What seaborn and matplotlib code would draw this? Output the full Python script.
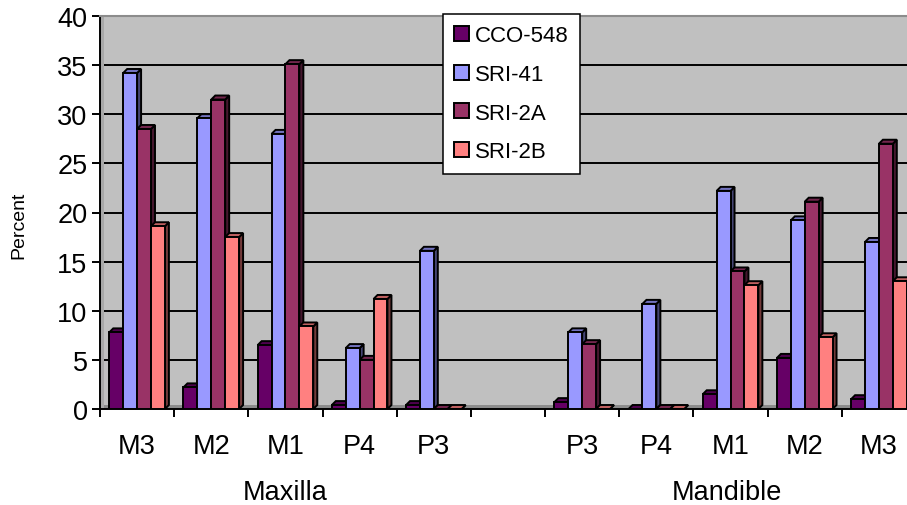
import numpy as np
import pandas as pd
import matplotlib
matplotlib.use("Agg")
import matplotlib.pyplot as plt
import matplotlib.transforms as mtransforms
from matplotlib.patches import Polygon, Patch
from matplotlib.colors import to_rgb
import seaborn as sns

# Tooth positions along each jaw
maxilla_teeth = ["M3", "M2", "M1", "P4", "P3"]
mandible_teeth = ["P3", "P4", "M1", "M2", "M3"]
group_labels = ["Maxilla", "Mandible"]

# Percent per tooth position (maxilla M3..P3, then mandible P3..M3)
series_names = ["CCO-548", "SRI-41", "SRI-2A", "SRI-2B"]
cco_548 = [7.8, 2.2, 6.5, 0.4, 0.4, 0.7, 0.0, 1.5, 5.2, 1.0]
sri_41 = [34.2, 29.6, 28.0, 6.2, 16.1, 7.8, 10.7, 22.2, 19.2, 17.0]
sri_2a = [28.5, 31.5, 35.1, 5.0, 0.0, 6.6, 0.0, 14.0, 21.1, 27.0]
sri_2b = [18.6, 17.5, 8.4, 11.2, 0.0, 0.0, 0.0, 12.6, 7.3, 13.0]
y_ticks = [0, 5, 10, 15, 20, 25, 30, 35, 40]

colors = ["#660066", "#9999FF", "#993366", "#FF8080"]

# Category slots: one empty slot separates the two jaws
slots = ([f"Maxilla {t}" for t in maxilla_teeth] + [" "] +
         [f"Mandible {t}" for t in mandible_teeth])
tick_labels = maxilla_teeth + [""] + mandible_teeth
data_slots = [s for s in slots if s.strip()]

rows = []
for name, values in zip(series_names, [cco_548, sri_41, sri_2a, sri_2b]):
    for slot, v in zip(data_slots, values):
        rows.append({"slot": slot, "series": name, "percent": v})
df = pd.DataFrame(rows)

sns.set_theme(style="white")
plt.rcParams["font.family"] = ["Liberation Sans", "DejaVu Sans"]
plt.rcParams["text.color"] = "black"
plt.rcParams["xtick.color"] = "black"
plt.rcParams["ytick.color"] = "black"
plt.rcParams["xtick.labelcolor"] = "black"
plt.rcParams["ytick.labelcolor"] = "black"

LW = 1.4

W, H = 907, 506
fig = plt.figure(figsize=(W / 100, H / 100), dpi=100)
fig.patch.set_facecolor("white")
ax = fig.add_axes([100 / W, 96 / H, 816 / W, 393 / H])
ax.set_facecolor("#C0C0C0")

sns.barplot(data=df, x="slot", y="percent", hue="series", order=slots,
            hue_order=series_names, palette=colors, width=0.75,
            edgecolor="black", linewidth=LW, saturation=1, legend=False,
            ax=ax, zorder=3)

ax.set_xlim(-0.5, len(slots) - 0.5)
ax.set_ylim(0, 40)

# depth offsets (pixels converted to data units) for the 3-D look
px_x = 816 / len(slots)
px_y = 393 / 40
dx, dy = 4 / px_x, 4 / px_y

# floor strip and left wall
ax.add_patch(Polygon([(-0.5, 0), (-0.5 + dx, dy), (len(slots) - 0.5, dy),
                      (len(slots) - 0.5, 0)], closed=True,
                     facecolor="#8c8c8c", edgecolor="none", zorder=1.5))
ax.axvspan(-0.5, -0.5 + dx, facecolor="#a8a8a8", edgecolor="none", zorder=1.6)


def shade(c, f):
    r, g, b = to_rgb(c)
    return (r * f, g * f, b * f)


for color, container in zip(colors, ax.containers):
    for bar in container:
        h = bar.get_height()
        if np.isnan(h):
            continue
        x0, w = bar.get_x(), bar.get_width()
        x1 = x0 + w
        side = Polygon([(x1, 0), (x1 + dx, dy), (x1 + dx, h + dy), (x1, h)],
                       closed=True, facecolor=shade(color, 0.45),
                       edgecolor="black", linewidth=LW, zorder=2.5)
        top = Polygon([(x0, h), (x0 + dx, h + dy), (x1 + dx, h + dy), (x1, h)],
                      closed=True, facecolor=shade(color, 0.75),
                      edgecolor="black", linewidth=LW, zorder=2.5)
        ax.add_patch(side)
        ax.add_patch(top)

# axes styling
ax.yaxis.grid(True, color="black", linewidth=LW, zorder=1)
ax.xaxis.grid(False)
ax.set_axisbelow(True)
for s in ["left", "bottom"]:
    ax.spines[s].set_color("black")
    ax.spines[s].set_linewidth(LW)
ax.spines["top"].set_color("#8c8c8c")
ax.spines["top"].set_linewidth(1.5)
ax.spines["right"].set_visible(False)

ax.set_yticks(y_ticks)
ax.set_yticklabels([str(v) for v in y_ticks], fontsize=19.5)
ax.tick_params(axis="y", which="major", length=6, width=LW, color="black",
               direction="out", pad=3, left=True)

ax.set_xticks(np.arange(-0.5, len(slots), 1.0))
ax.set_xticklabels([])
ax.set_xticks(np.arange(len(slots)), minor=True)
ax.set_xticklabels(tick_labels, minor=True, fontsize=19.5)
ax.tick_params(axis="x", which="major", length=6, width=LW, color="black",
               direction="out", bottom=True)
ax.tick_params(axis="x", which="minor", length=0, pad=17, bottom=True)
ax.set_xlabel("")
ax.set_ylabel("")

# jaw group labels under the tooth labels
trans = mtransforms.blended_transform_factory(ax.transData, ax.transAxes)
ax.text(2, -0.212, group_labels[0], transform=trans, ha="center",
        va="center", fontsize=19.5)
ax.text(7.95, -0.212, group_labels[1], transform=trans, ha="center",
        va="center", fontsize=19.5)

fig.text(19 / W, 1 - 225 / H, "Percent", rotation=90, ha="center",
         va="center", fontsize=14)

handles = [Patch(facecolor=c, edgecolor="black", linewidth=LW, label=n)
           for c, n in zip(colors, series_names)]
leg = ax.legend(handles=handles, loc="upper left",
                bbox_to_anchor=(443 / W, 1 - 15 / H),
                bbox_transform=fig.transFigure, fontsize=16, frameon=True,
                fancybox=False, edgecolor="black", framealpha=1,
                handlelength=0.65, handleheight=0.65, handletextpad=0.3,
                labelspacing=0.8, borderpad=0.5, borderaxespad=0)
leg.get_frame().set_linewidth(1.1)
leg.set_zorder(10)

fig.savefig("out.png", dpi=100)
